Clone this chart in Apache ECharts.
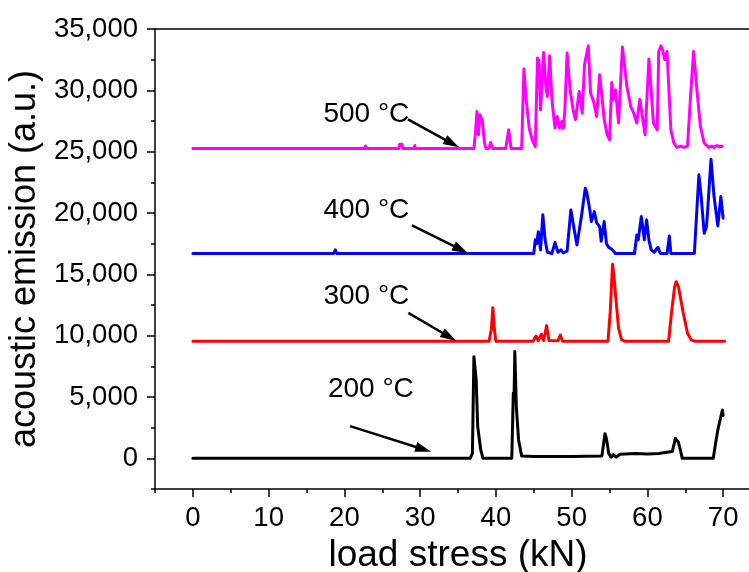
<!DOCTYPE html>
<html>
<head>
<meta charset="utf-8">
<title>Acoustic emission vs load stress</title>
<script src="https://cdn.jsdelivr.net/npm/echarts@6/dist/echarts.min.js"></script>
<style>
  html, body { margin: 0; padding: 0; background: #fff; }
  #chart { width: 749px; height: 572px; }
</style>
</head>
<body>
<div id="chart"></div>
<script>
// Acoustic emission curves, offset vertically per annealing temperature.
// Each point: [load stress (kN), acoustic emission (a.u.)]
const curve200 = [
  [0, 0], [36.6, 0], [36.9, 400], [37.1, 8290], [37.4, 6400], [37.6, 2600], [37.8, 2500],
  [38.0, 700], [38.3, 0], [42.1, 0], [42.3, 5300], [42.4, 4900], [42.5, 8700], [42.7, 4200],
  [43.0, 1500], [43.4, 200], [45, 150], [50, 150], [54.0, 200], [54.4, 2000], [54.6, 1600],
  [54.9, 400], [55.2, 100], [55.5, 300], [55.9, 100], [56.4, 330], [58.4, 400], [60, 350],
  [61.5, 400], [63.0, 540], [63.3, 560], [63.7, 1630], [64.1, 1300], [64.5, 300], [64.6, 0],
  [68.7, 0], [69.0, 1220], [69.3, 2310], [69.5, 2860], [69.7, 3000], [69.9, 3940], [70.0, 3500]
];
const curve300 = [
  [0, 9550], [39.1, 9550], [39.4, 10500], [39.6, 12280], [39.8, 10500], [40.0, 9550],
  [44.9, 9550], [45.3, 9970], [45.6, 9600], [46.0, 10110], [46.3, 9600], [46.5, 10200],
  [46.7, 10820], [47.0, 9600], [48.2, 9580], [48.5, 10060], [48.8, 9550], [54.8, 9550],
  [55.1, 11960], [55.4, 15820], [55.6, 14800], [55.8, 13320], [56.2, 10600], [56.6, 9650],
  [57, 9550], [62.8, 9550], [63.2, 11960], [63.6, 14000], [63.8, 14400], [64.1, 14000],
  [64.7, 11960], [65.3, 10200], [65.8, 9650], [66.2, 9550], [70.2, 9550]
];
const curve400 = [
  [0, 16700], [18.6, 16700], [18.8, 17000], [19.0, 16700], [45.0, 16700], [45.2, 17810],
  [45.4, 17500], [45.6, 18480], [45.9, 17000], [46.2, 19850], [46.5, 17810], [46.8, 16800],
  [47.4, 16700], [47.8, 17590], [48.2, 16800], [48.6, 17000], [48.9, 16750], [49.4, 16900],
  [49.9, 20250], [50.3, 18800], [50.7, 17400], [51.3, 19760], [51.8, 22020], [52.0, 21700],
  [52.2, 21850], [52.4, 20250], [52.6, 19300], [53.0, 20110], [53.3, 19200], [53.7, 18890],
  [53.9, 17700], [54.3, 19300], [54.6, 17500], [54.9, 17200], [55.3, 17050], [55.8, 16700],
  [58.3, 16700], [58.6, 18210], [58.8, 17810], [59.2, 19710], [59.6, 17810], [59.9, 19440],
  [60.2, 17810], [60.5, 17000], [60.9, 16800], [61.4, 17210], [61.7, 16700], [62.6, 16700],
  [62.9, 18130], [63.1, 16700], [66.2, 16700], [66.8, 23110], [67.1, 21340], [67.5, 18350],
  [67.8, 18880], [67.9, 19710], [68.1, 19710], [68.4, 24390], [68.8, 21340], [69.3, 18950],
  [69.7, 21340], [70.0, 19580]
];
const curve500 = [
  [0, 25250], [22.7, 25250], [22.8, 25450], [22.9, 25250], [27.2, 25250], [27.3, 25600],
  [27.5, 25500], [27.6, 25600], [27.7, 25250], [29.2, 25250], [29.3, 25500], [29.4, 25250],
  [32.0, 25250], [32.1, 25350], [32.2, 25250], [37.1, 25250], [37.3, 26500], [37.5, 28270],
  [37.7, 26370], [37.9, 28000], [38.2, 27600], [38.5, 25700], [38.7, 25250], [39.1, 25250],
  [39.3, 25750], [39.6, 25250], [41.3, 25250], [41.7, 26780], [42.0, 25250], [43.4, 25250],
  [43.7, 31730], [44.0, 29230], [44.4, 26920], [44.8, 25960], [45.2, 25420], [45.5, 32630],
  [45.7, 32400], [45.9, 28410], [46.3, 33090], [46.6, 30310], [46.8, 29500], [47.1, 32810],
  [47.4, 29230], [47.8, 26920], [48.1, 27870], [48.4, 26920], [48.7, 27460], [48.9, 26900],
  [49.1, 28270], [49.4, 33040], [49.8, 30040], [50.2, 28410], [50.5, 27600], [51.0, 29900],
  [51.4, 28140], [51.7, 32080], [51.9, 32080], [52.2, 33630], [52.5, 29770], [52.9, 29090],
  [53.3, 27870], [53.7, 31270], [54.0, 29500], [54.3, 27600], [54.7, 26370], [55.0, 25960],
  [55.3, 30640], [55.5, 29230], [55.8, 30040], [56.2, 27330], [56.7, 33530], [56.9, 33450],
  [57.3, 30310], [57.8, 28680], [58.2, 28140], [58.6, 27330], [59.0, 29280], [59.4, 27600],
  [59.7, 26370], [60.2, 32550], [60.5, 30040], [60.8, 27330], [61.3, 26780], [61.5, 33170],
  [61.8, 33630], [62.0, 33300], [62.3, 32490], [62.6, 33170], [62.8, 30590], [63.1, 26780],
  [63.5, 25700], [63.9, 25350], [64.4, 25450], [64.8, 25350], [65.3, 25450], [65.7, 29500],
  [66.1, 33170], [66.5, 30310], [67.0, 27050], [67.5, 25700], [68.1, 25350], [68.5, 25450],
  [68.8, 25350], [69.2, 25500], [69.6, 25400], [69.9, 25450]
];

// Curve names and the label / arrow anchors (data coordinates):
// [label x, label y, arrow start x, arrow start y, arrow tip x, arrow tip y]
const curveNames = ['200 °C', '300 °C', '400 °C', '500 °C'];
const curveColors = ['#000000', '#ff0000', '#0000ff', '#ff00ff'];
const callouts = [
  [23.5, 5640, 20.75, 2630, 31.44, 540],
  [22.9, 13190, 28.44, 11860, 34.74, 9580],
  [22.9, 20230, 28.93, 19000, 36.32, 16720],
  [22.9, 28050, 28.40, 27630, 35.13, 25350]
];

// Axis ticks
const xMajorTicks = [0, 10, 20, 30, 40, 50, 60, 70];
const xMinorTicks = [-5, 5, 15, 25, 35, 45, 55, 65, 75];
const yMajorTicks = [0, 5000, 10000, 15000, 20000, 25000, 30000, 35000];
const yMinorTicks = [-2500, 2500, 7500, 12500, 17500, 22500, 27500, 32500];

const FONT = '"Liberation Sans", Arial, Helvetica, sans-serif';
const addCommas = v => String(v).replace(/\B(?=(\d{3})+(?!\d))/g, ',');

const chart = echarts.init(document.getElementById('chart'), null, { renderer: 'canvas' });

const axisLineStyle = { color: '#000', width: 1.5 };
const X_MIN = -5, X_MAX = 75, Y_MIN = -2500, Y_MAX = 35000;

const lineSeries = [curve200, curve300, curve400, curve500].map((data, i) => ({
  type: 'line',
  name: curveNames[i],
  data: data,
  showSymbol: false,
  smooth: false,
  z: 2 + i,
  lineStyle: { color: curveColors[i], width: 3, join: 'round', cap: 'round' },
  itemStyle: { color: curveColors[i] },
  silent: true
}));

const calloutSeries = {
  type: 'custom',
  coordinateSystem: 'cartesian2d',
  silent: true,
  clip: false,
  z: 10,
  data: callouts.map(c => [c[2], c[3], c[4], c[5], c[0], c[1]]),
  renderItem: function (params, api) {
    const p1 = api.coord([api.value(0), api.value(1)]);
    const p2 = api.coord([api.value(2), api.value(3)]);
    const pt = api.coord([api.value(4), api.value(5)]);
    const dx = p2[0] - p1[0], dy = p2[1] - p1[1];
    const len = Math.sqrt(dx * dx + dy * dy);
    const ux = dx / len, uy = dy / len;
    const headLen = 16, headHalf = 5;
    const bx = p2[0] - ux * headLen, by = p2[1] - uy * headLen;
    return {
      type: 'group',
      children: [
        {
          type: 'line',
          shape: { x1: p1[0], y1: p1[1], x2: bx + ux * 2, y2: by + uy * 2 },
          style: { stroke: '#000', lineWidth: 2.5 }
        },
        {
          type: 'polygon',
          shape: {
            points: [
              [p2[0], p2[1]],
              [bx - uy * headHalf, by + ux * headHalf],
              [bx + uy * headHalf, by - ux * headHalf]
            ]
          },
          style: { fill: '#000' }
        },
        {
          type: 'text',
          x: pt[0],
          y: pt[1],
          style: {
            text: curveNames[params.dataIndex],
            font: '28px ' + FONT,
            fill: '#000',
            align: 'center',
            verticalAlign: 'middle'
          }
        }
      ]
    };
  }
};

const hidden = { show: false };

chart.setOption({
  animation: false,
  backgroundColor: '#fff',
  grid: {
    left: 155,
    top: 29,
    bottom: 83,
    right: -12,
    containLabel: false,
    outerBoundsMode: 'none',
    show: false
  },
  xAxis: [
    {
      type: 'value',
      min: X_MIN,
      max: X_MAX,
      interval: 5,
      position: 'bottom',
      name: 'load stress (kN)',
      nameLocation: 'middle',
      nameGap: 45,
      nameTextStyle: { fontFamily: FONT, fontSize: 37, color: '#000' },
      axisLine: { show: true, onZero: false, lineStyle: axisLineStyle },
      axisTick: { show: true, inside: false, length: 4, customValues: xMinorTicks, lineStyle: axisLineStyle },
      axisLabel: {
        show: true,
        margin: 15,
        fontFamily: FONT,
        fontSize: 27.5,
        color: '#000',
        customValues: xMajorTicks,
        formatter: v => String(v)
      },
      splitLine: hidden
    },
    {
      type: 'value',
      min: X_MIN,
      max: X_MAX,
      position: 'bottom',
      axisLine: { show: false, onZero: false },
      axisLabel: hidden,
      splitLine: hidden,
      axisTick: { show: true, length: 8, customValues: xMajorTicks, lineStyle: axisLineStyle }
    },
    {
      // top frame line
      type: 'value',
      min: X_MIN,
      max: X_MAX,
      position: 'top',
      axisLine: { show: true, onZero: false, lineStyle: axisLineStyle },
      axisLabel: hidden,
      axisTick: hidden,
      splitLine: hidden
    }
  ],
  yAxis: [
    {
      type: 'value',
      min: Y_MIN,
      max: Y_MAX,
      interval: 2500,
      position: 'left',
      name: 'acoustic emission (a.u.)',
      nameLocation: 'middle',
      nameGap: 103,
      nameTextStyle: { fontFamily: FONT, fontSize: 36, color: '#000' },
      axisLine: { show: true, onZero: false, lineStyle: axisLineStyle },
      axisTick: { show: true, inside: false, length: 4, customValues: yMinorTicks, lineStyle: axisLineStyle },
      axisLabel: {
        show: true,
        margin: 17,
        fontFamily: FONT,
        fontSize: 27.5,
        color: '#000',
        customValues: yMajorTicks,
        formatter: v => addCommas(v)
      },
      splitLine: hidden
    },
    {
      type: 'value',
      min: Y_MIN,
      max: Y_MAX,
      position: 'left',
      axisLine: { show: false, onZero: false },
      axisLabel: hidden,
      splitLine: hidden,
      axisTick: { show: true, length: 8, customValues: yMajorTicks, lineStyle: axisLineStyle }
    }
  ],
  series: lineSeries.concat([calloutSeries])
});
</script>
</body>
</html>
